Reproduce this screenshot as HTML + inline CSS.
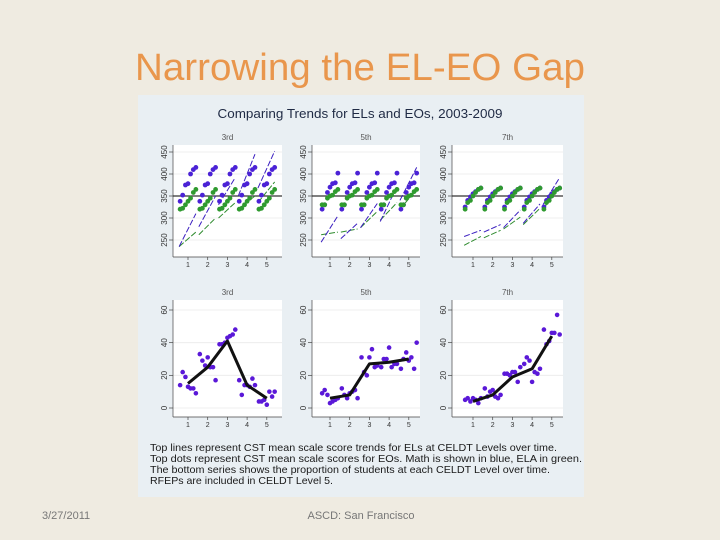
<!DOCTYPE html>
<html><head><meta charset="utf-8"><style>
body{margin:0;width:720px;height:540px;background:#efebe1;overflow:hidden}
svg{display:block}
</style></head><body>
<svg id="s" width="720" height="540" xmlns="http://www.w3.org/2000/svg" font-family="Liberation Sans, sans-serif">
<text x="360" y="80" text-anchor="middle" font-size="38" fill="#e9964c" textLength="450" lengthAdjust="spacingAndGlyphs">Narrowing the EL-EO Gap</text>
<rect x="138" y="95" width="446" height="402" fill="#e9eff3"/>
<text x="360" y="118" text-anchor="middle" font-size="13" fill="#1f2a44" textLength="285" lengthAdjust="spacingAndGlyphs">Comparing Trends for ELs and EOs, 2003-2009</text>
<g id="charts"></g>
<g font-size="10.5" fill="#1a1a1a">
<text x="150" y="451" textLength="407" lengthAdjust="spacingAndGlyphs">Top lines represent CST mean scale score trends for ELs at CELDT Levels over time.</text>
<text x="150" y="462" textLength="432" lengthAdjust="spacingAndGlyphs">Top dots represent CST mean scale scores for EOs.  Math is shown in blue, ELA in green.</text>
<text x="150" y="473" textLength="400" lengthAdjust="spacingAndGlyphs">The bottom series shows the proportion of students at each CELDT Level over time.</text>
<text x="150" y="484" textLength="183" lengthAdjust="spacingAndGlyphs">RFEPs are included in CELDT Level 5.</text>
</g>
<text x="42" y="519" font-size="11" fill="#777">3/27/2011</text>
<text x="361" y="519" font-size="11" fill="#777" text-anchor="middle">ASCD: San Francisco</text>
</svg>
<script>
const grades = ["3rd","5th","7th"];
const levels = [1,2,3,4,5];
const eoMath = [[338,352,375,378,400,410,415],[320,330,358,370,378,380,402],[325,340,348,355,360,365,368]];
const eoEla = [[320,322,330,338,345,358,365],[330,330,345,350,352,360,365],[320,335,340,350,358,365,368]];
const elMathStart = [[235,280,330,350,368],[245,253,278,292,340],[258,268,278,288,330]];
const elMathEnd = [[310,350,392,445,452],[305,288,333,372,415],[272,285,318,332,392]];
const elElaStart = [[235,262,300,320,335],[262,268,278,295,320],[238,255,275,285,320]];
const elElaEnd = [[268,300,335,350,382],[268,275,315,335,365],[258,272,302,322,370]];
const topTicks = [250,300,350,400,450];
const botTicks = [0,20,40,60];
const propLine = [[15,25,41,14,6],[6,8,27,28,30],[4,8,19,24,44]];
const propDots = [
 [[14,22,19,13,12,12,9],[33,29,26,31,25,25,17],[39,39,40,43,44,45,48],[17,8,14,14,13,18,14],[4,4,5,2,10,7,10]],
 [[9,11,8,3,4,5,6],[12,8,6,9,10,11,6],[31,22,20,31,36,25,26],[25,30,30,37,25,27,27],[24,30,34,29,31,24,40]],
 [[5,6,4,6,5,3,6],[12,7,10,11,7,6,8],[21,21,20,22,22,16,25],[27,31,29,16,22,21,24],[48,39,41,46,46,57,45]]];
const NS="http://www.w3.org/2000/svg";
const root=document.getElementById('charts');
const plotLeft=[173,312,452], plotRight=[282,420,563], firstTick=[188,330,473], step=19.7;
function mk(tag,attrs,parent){const e=document.createElementNS(NS,tag);for(const k in attrs)e.setAttribute(k,attrs[k]);(parent||root).appendChild(e);return e;}
function xs(p,l){return firstTick[p]+(l-1)*step;}
const yTop=v=>196-(v-350)*0.44;
const yBot=v=>408-v*98/60;
const offs=[-0.4,-0.27,-0.13,0,0.13,0.27,0.4];
function panel(p,top){
  const y0=top?145:300,y1=top?257:417,ys=top?yTop:yBot,ticks=top?topTicks:botTicks;
  const g=mk('g',{});
  
  
  mk('rect',{x:plotLeft[p],y:y0,width:plotRight[p]-plotLeft[p],height:y1-y0,fill:'#fff'},g);
  const t=mk('text',{x:(plotLeft[p]+plotRight[p])/2,y:y0-5,'text-anchor':'middle','font-size':8,fill:'#555'},g);t.textContent=grades[p];
  
  
  ticks.forEach(v=>{const y=ys(v);
    mk('line',{x1:plotLeft[p],x2:plotRight[p],y1:y,y2:y,stroke:'#eaeaea','stroke-width':0.8},g);
    mk('line',{x1:plotLeft[p]-4,x2:plotLeft[p],y1:y,y2:y,stroke:'#444','stroke-width':0.7},g);
    const tx=mk('text',{x:plotLeft[p]-6,y:y,'font-size':8,fill:'#333','text-anchor':'middle',transform:`rotate(-90 ${plotLeft[p]-6} ${y})`},g);tx.textContent=v;
    
    });
  mk('line',{x1:plotLeft[p],x2:plotLeft[p],y1:y0,y2:y1,stroke:'#444','stroke-width':0.7},g);
  mk('line',{x1:plotLeft[p],x2:plotRight[p],y1:y1,y2:y1,stroke:'#444','stroke-width':0.7},g);
  levels.forEach(l=>{const x=xs(p,l);
    mk('line',{x1:x,x2:x,y1:y1,y2:y1+3,stroke:'#444','stroke-width':0.7},g);
    const tx=mk('text',{x:x,y:y1+10,'font-size':7,fill:'#333','text-anchor':'middle'},g);tx.textContent=l;
    
    });
  if(top){
    mk('line',{x1:plotLeft[p],x2:plotRight[p],y1:ys(350),y2:ys(350),stroke:'#333','stroke-width':1.2},g);
    levels.forEach((l,i)=>{
      const a=xs(p,l-0.45),b=xs(p,l+0.4);
      const le=mk('line',{x1:a,y1:ys(elElaStart[p][i]),x2:b,y2:ys(elElaEnd[p][i]),stroke:'#2e8b2e','stroke-width':1,'stroke-dasharray':'6 2'},g);
      
      
      const lm=mk('line',{x1:a,y1:ys(elMathStart[p][i]),x2:b,y2:ys(elMathEnd[p][i]),stroke:'#3b1fc0','stroke-width':1,'stroke-dasharray':'6 2'},g);
      
      
      offs.forEach((o,j)=>{
        const cb=mk('circle',{cx:xs(p,l+o),cy:ys(eoMath[p][j]),r:2.4,fill:'#4b22d6'},g);
        
        
      });
      offs.forEach((o,j)=>{
        const cg=mk('circle',{cx:xs(p,l+o),cy:ys(eoEla[p][j]),r:2.4,fill:'#2f9a2f'},g);
        
        
      });
    });
  } else {
    levels.forEach((l,i)=>{offs.forEach((o,j)=>{
      const c=mk('circle',{cx:xs(p,l+o),cy:ys(propDots[p][i][j]),r:2.3,fill:'#5a18d8'},g);
      
      
    });});
    const pl=mk('polyline',{points:levels.map((l,i)=>xs(p,l)+','+ys(propLine[p][i])).join(' '),fill:'none',stroke:'#111','stroke-width':3,'stroke-linejoin':'round'},g);
    
    
  }
}
[0,1,2].forEach(p=>{panel(p,true);panel(p,false);});
</script>
</body></html>
